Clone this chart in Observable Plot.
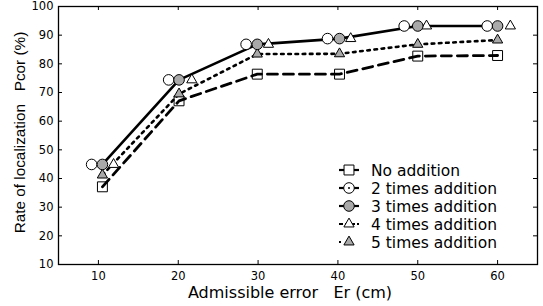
<!DOCTYPE html>
<html><head><meta charset="utf-8">
<script src="https://cdn.jsdelivr.net/npm/d3@7"></script>
<script src="https://cdn.jsdelivr.net/npm/@observablehq/plot@0.6"></script>
<style>
body{margin:0;background:#fff;}
#chart{position:relative;width:543px;height:306px;}
#chart svg{position:absolute;left:0;top:0;}
</style></head><body><div id="chart"></div>
<script>
// ---- data ----
const seriesNames = ["No addition", "2 times addition", "3 times addition", "4 times addition", "5 times addition"];
const xCenter = [10.5, 20.1, 29.9, 40.2, 50.0, 60.0];   // squares, grey circles, grey triangles
const xLeft   = [9.15, 18.8, 28.5, 38.7, 48.3, 58.7];   // open circles (drawn offset to the left)
const xRight  = [11.9, 21.7, 31.3, 41.6, 51.1, 61.6];   // open triangles (drawn offset to the right)
const noAddition = [37.1, 67.1, 76.4, 76.4, 82.7, 82.9];
const twoTimes   = [44.9, 74.4, 86.8, 88.8, 93.2, 93.2];
const threeTimes = [44.9, 74.4, 86.8, 88.8, 93.2, 93.2];
const fourTimes  = [44.9, 74.4, 86.8, 88.8, 93.2, 93.2];
const fiveTimes  = [41.2, 69.5, 83.4, 83.5, 86.8, 88.3];
const xTicks = [10, 20, 30, 40, 50, 60];
const yTicks = [10, 20, 30, 40, 50, 60, 70, 80, 90, 100];
const xLabel = "Admissible error\u00a0\u00a0\u00a0Er (cm)";
const yLabel = "Rate of localization\u00a0\u00a0\u00a0Pcor (%)";

const rows = (xs, ys) => xs.map((x, i) => ({x, y: ys[i]}));
const sqData = rows(xCenter, noAddition);
const c2Data = rows(xLeft, twoTimes);
const c3Data = rows(xCenter, threeTimes);
const t4Data = rows(xRight, fourTimes);
const t5Data = rows(xCenter, fiveTimes);

const W = 543, H = 306, mL = 58, mR = 6, mT = 6, mB = 42;
const fw = W - mL - mR, fh = H - mT - mB, tk = 4;
const grey = "#a9a9a9";

const plot = Plot.plot({
  width: W, height: H,
  marginLeft: mL, marginRight: mR, marginTop: mT, marginBottom: mB,
  x: {domain: [5, 65]},
  y: {domain: [10, 100]},
  style: {fontFamily: "DejaVu Sans, sans-serif", fontSize: "11.5px", color: "#000", background: "#fff"},
  marks: [
    Plot.axisX(xTicks, {tickSize: 0, tickPadding: 7, label: null, fontSize: 11.5}),
    Plot.axisY(yTicks, {tickSize: 0, tickPadding: 5, label: null, fontSize: 11.5}),
    // inward ticks on all four sides
    Plot.tickX(xTicks, {x: d => d, insetTop: fh - tk, stroke: "#000"}),
    Plot.tickX(xTicks, {x: d => d, insetBottom: fh - tk, stroke: "#000"}),
    Plot.tickY(yTicks, {y: d => d, insetRight: fw - tk, stroke: "#000"}),
    Plot.tickY(yTicks, {y: d => d, insetLeft: fw - tk, stroke: "#000"}),
    Plot.frame({stroke: "#000", strokeWidth: 1.3}),
    // lines
    Plot.line(sqData, {x: "x", y: "y", stroke: "#000", strokeWidth: 2.8, strokeDasharray: "10,6"}),
    Plot.line(t5Data, {x: "x", y: "y", stroke: "#000", strokeWidth: 2.6, strokeDasharray: "2.6,4.6"}),
    Plot.line(c3Data, {x: "x", y: "y", stroke: "#000", strokeWidth: 2.6}),
    // markers
    Plot.dot(sqData, {x: "x", y: "y", symbol: "square", r: 5.6, fill: "none", stroke: "#000", strokeWidth: 1}),
    Plot.dot(t5Data, {x: "x", y: "y", symbol: "triangle", r: 3.8, fill: grey, stroke: "#000", strokeWidth: 1}),
    Plot.dot(c2Data, {x: "x", y: "y", symbol: "circle", r: 5.3, fill: "#fff", stroke: "#000", strokeWidth: 1}),
    Plot.dot(t4Data, {x: "x", y: "y", symbol: "triangle", r: 3.8, fill: "#fff", stroke: "#000", strokeWidth: 1}),
    Plot.dot(c3Data, {x: "x", y: "y", symbol: "circle", r: 5.3, fill: grey, stroke: "#000", strokeWidth: 1}),
    // axis titles
    Plot.text([xLabel], {text: d => d, frameAnchor: "bottom", textAnchor: "middle", lineAnchor: "middle",
      dx: -8, dy: 28, fontSize: 16, fontFamily: "DejaVu Sans", fill: "#000"}),
    Plot.text([yLabel], {text: d => d, frameAnchor: "left", textAnchor: "middle", lineAnchor: "middle",
      rotate: -90, dx: -38, dy: -3, fontSize: 15.3, fontFamily: "Liberation Sans, Arial", fill: "#000"})
  ]
});
document.getElementById("chart").appendChild(plot);

// ---- legend (inside the plot box, lower right) ----
const legendSym = ["square", "circle", "circle", "triangle", "triangle"];
const legendFill = ["#fff", "#fff", grey, "#fff", grey];
const legendDash = [null, null, null, "4,2", "2,9"];
const lg = d3.select("#chart").append("svg").attr("width", W).attr("height", H);
const symTypes = {square: d3.symbolSquare, circle: d3.symbolCircle, triangle: d3.symbolTriangle};
const symR = {square: 5.6, circle: 5.3, triangle: 3.8};
seriesNames.forEach((name, i) => {
  const cy = 170 + i * 18;
  const g = lg.append("g").attr("transform", `translate(0,${cy})`);
  g.append("line").attr("x1", 339).attr("x2", 359).attr("y1", 0).attr("y2", 0)
    .attr("stroke", "#000").attr("stroke-width", 2.2)
    .attr("stroke-dasharray", legendDash[i]);
  const r = symR[legendSym[i]];
  g.append("path").attr("transform", "translate(349,0)")
    .attr("d", d3.symbol(symTypes[legendSym[i]], Math.PI * r * r)())
    .attr("fill", legendFill[i]).attr("stroke", "#000").attr("stroke-width", 1);
  if (i === 1) g.append("circle").attr("cx", 349).attr("cy", 0).attr("r", 1).attr("fill", "#000");
  g.append("text").attr("x", 371).attr("y", 0).attr("dy", "0.36em")
    .attr("font-family", "DejaVu Sans, sans-serif").attr("font-size", 15.5).attr("fill", "#000")
    .text(name);
});
</script>
</body></html>
